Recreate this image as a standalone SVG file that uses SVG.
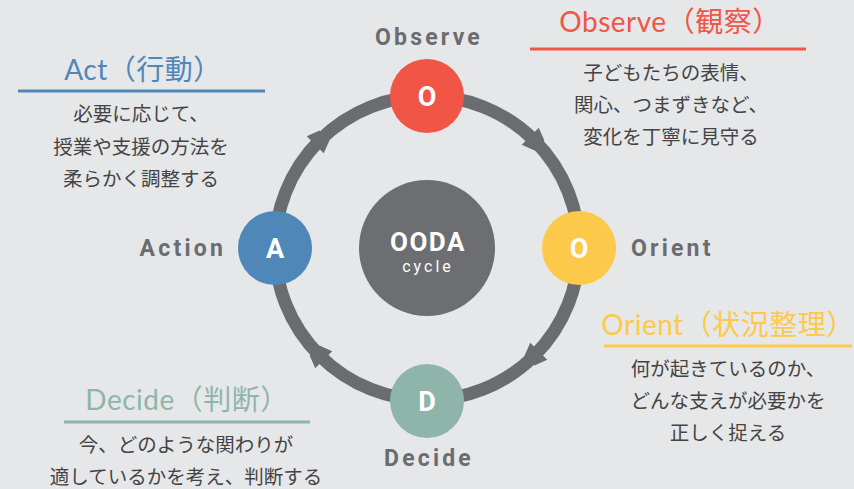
<svg xmlns="http://www.w3.org/2000/svg" width="854" height="489" viewBox="0 0 854 489">
<style>
.lbl{font-family:"Roboto","Noto Sans","DejaVu Sans",sans-serif;font-weight:bold;font-size:23px;fill:#6b6c70;letter-spacing:3.2px}
.ltr{font-family:"Roboto","Noto Sans",sans-serif;font-weight:bold;font-size:27px;fill:#fff;text-anchor:middle}
.hd{font-family:"Lato","Noto Sans CJK JP",sans-serif;font-size:28px;text-anchor:middle;letter-spacing:0.5px}
.body{font-family:"Noto Sans CJK JP",sans-serif;font-size:19.5px;fill:#444;text-anchor:middle}
.ul{stroke-width:3}
</style>
<defs>
<polygon id="ah" points="-6,-12 7,-7 7,7 -6,12" fill="#6b6c70"/>
</defs>
<rect width="854" height="489" fill="#e6e7e9"/>
<g id="connectors">
<circle cx="427" cy="248" r="152" fill="none" stroke="#6b6c70" stroke-width="13"/>
<use href="#ah" transform="translate(534.5,140.5) rotate(45)"/>
<use href="#ah" transform="translate(534.5,355.5) rotate(135)"/>
<use href="#ah" transform="translate(319.5,355.5) rotate(225)"/>
<use href="#ah" transform="translate(319.5,140.5) rotate(315)"/>
</g>
<g id="center">
<circle cx="427" cy="248" r="68" fill="#6d6e71"/>
<text x="428" y="251" class="ltr" style="font-size:26px;letter-spacing:1.5px">OODA</text>
<text x="428" y="272" style="font-family:Roboto,sans-serif;font-size:16px;fill:#fff;text-anchor:middle;letter-spacing:3px">cycle</text>
</g>
<g id="node-observe">
<circle cx="427" cy="96" r="37" fill="#f05545"/>
<text x="427" y="106" class="ltr">O</text>
<text x="429" y="45" class="lbl" text-anchor="middle">Observe</text>
</g>
<g id="node-orient">
<circle cx="579" cy="248" r="37" fill="#fdc94a"/>
<text x="579" y="258" class="ltr">O</text>
<text x="631" y="256" class="lbl">Orient</text>
</g>
<g id="node-decide">
<circle cx="427" cy="401" r="37" fill="#8fb5ab"/>
<text x="427" y="411" class="ltr">D</text>
<text x="429" y="466" class="lbl" text-anchor="middle">Decide</text>
</g>
<g id="node-action">
<circle cx="275" cy="248" r="37" fill="#4f87b9"/>
<text x="275" y="258" class="ltr">A</text>
<text x="226" y="256" class="lbl" text-anchor="end">Action</text>
</g>
<g id="text-observe">
<text x="670" y="32" class="hd" fill="#f05545">Observe（観察）</text>
<line x1="530" y1="49" x2="806" y2="49" stroke="#f05545" class="ul"/>
<text x="671" y="80" class="body">子どもたちの表情、</text>
<text x="671" y="112" class="body">関心、つまずきなど、</text>
<text x="671" y="144" class="body">変化を丁寧に見守る</text>
</g>
<g id="text-act">
<text x="143" y="80" class="hd" fill="#4f87b9">Act（行動）</text>
<line x1="18" y1="91" x2="265" y2="91" stroke="#4f87b9" class="ul"/>
<text x="141" y="121" class="body">必要に応じて、</text>
<text x="141" y="154" class="body">授業や支援の方法を</text>
<text x="141" y="186" class="body">柔らかく調整する</text>
</g>
<g id="text-orient">
<text x="728" y="335" class="hd" fill="#fdc94a">Orient（状況整理）</text>
<line x1="604" y1="346" x2="852" y2="346" stroke="#fdc94a" class="ul"/>
<text x="728" y="376" class="body">何が起きているのか、</text>
<text x="728" y="408" class="body">どんな支えが必要かを</text>
<text x="728" y="440" class="body">正しく捉える</text>
</g>
<g id="text-decide">
<text x="187" y="410" class="hd" fill="#8fb5ab">Decide（判断）</text>
<line x1="64" y1="422" x2="310" y2="422" stroke="#8fb5ab" class="ul"/>
<text x="186" y="452" class="body">今、どのような関わりが</text>
<text x="186" y="484" class="body">適しているかを考え、判断する</text>
</g>
</svg>
